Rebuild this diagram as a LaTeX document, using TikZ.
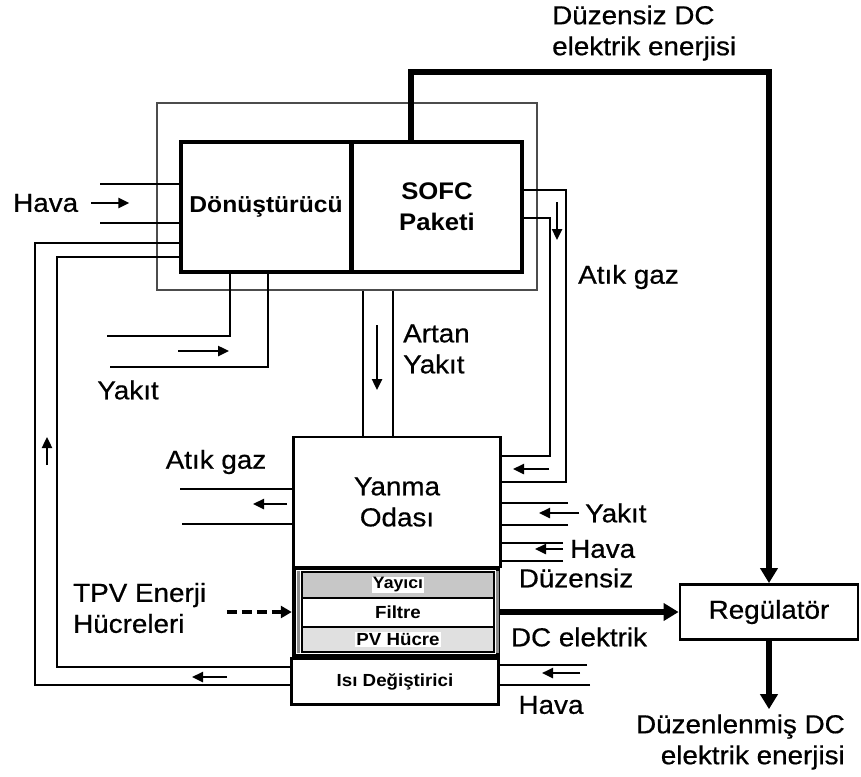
\documentclass[tikz,border=0pt]{standalone}
\usepackage{fontspec}
\setmainfont{Liberation Sans}[FakeStretch=1.07]
\usetikzlibrary{arrows.meta}

\begin{document}
\begin{tikzpicture}[
    x=1pt, y=-1pt,
    every node/.style={font=\fontsize{26}{31}\selectfont\addfontfeature{FakeBold=0.6}, inner sep=0pt},
    box/.style={draw, line width=2.8pt, align=center},
    lay/.style={draw, line width=1.2pt, minimum width=192pt},
    laytxt/.style={font=\fontsize{17.5}{20}\selectfont\bfseries, fill=white, inner sep=1pt},
    pipe/.style={line width=2.6pt},
    flow/.style={-{Triangle[length=11pt, width=10pt]}, line width=2.4pt},
    elec/.style={-{Triangle[length=15pt, width=17pt]}, line width=5.5pt},
    dflow/.style={-{Triangle[length=11pt, width=12pt]}, line width=4pt, dash pattern=on 10pt off 5pt}
]
\useasboundingbox (0,0) rectangle (861,776);
% Upper block: converter and SOFC stack in their enclosure
\node[draw=black!70, line width=1.6pt, minimum width=380pt, minimum height=187pt] (unit) at (347,196.5) {};
\node[box, line width=3.2pt, minimum width=170pt, minimum height=130pt, font=\fontsize{23}{28}\selectfont\bfseries] (conv) at (266,207) {Dönüştürücü};
\node[box, line width=3.2pt, minimum width=170pt, minimum height=130pt, font=\fontsize{24}{31}\selectfont\bfseries] (sofc) at (437,207) {SOFC\\Paketi};
% Lower block: combustor, TPV cells, heat exchanger
\node[box, minimum width=207pt, minimum height=130pt] (yanma) at (397,502) {Yanma\\Odası};
\node[draw, line width=4.5pt, minimum width=204pt, minimum height=88pt] (tpv) at (396,612) {};
\node[lay, fill=black!22, minimum height=26pt] (yay) at (398,585) {};
\node[lay, fill=white, minimum height=29pt] (fil) at (398,612.5) {};
\node[lay, fill=black!12, minimum height=25pt] (pvh) at (398,639.5) {};
\node[laytxt, font=\fontsize{16.5}{20}\selectfont\bfseries] (yaytxt) at (yay) {Yayıcı};
\node[laytxt] (filtxt) at (fil) {Filtre};
\node[laytxt] (pvhtxt) at (pvh) {PV Hücre};
\draw[black!45, line width=3pt] ([xshift=-3pt]yay.north west) -- ([xshift=-3pt]pvh.south west);
\draw[black!45, line width=3pt] ([xshift=3pt]yay.north east) -- ([xshift=3pt]pvh.south east);
\node[box, minimum width=207pt, minimum height=46pt, font=\fontsize{17.5}{20}\selectfont\bfseries] (isi) at (395,681.5) {Isı Değiştirici};
% Regulator
\node[box, minimum width=178pt, minimum height=55pt] (reg) at (769,612) {Regülatör};
% Labels
\node[anchor=west] (havaL) at (13,203) {Hava};
\node (yakitL) at (128,390) {Yakıt};
\node (agL) at (216,462) {Atık gaz};
\node[align=left, anchor=west] (artanL) at (403,349) {Artan\\Yakıt};
\node[anchor=west] (agR) at (578,277) {Atık gaz};
\node[anchor=west] (yakitR) at (585,513) {Yakıt};
\node[anchor=west] (havaR) at (570,549) {Hava};
\node (havaI) at (551,705) {Hava};
\node[align=left, anchor=west] (tpvL) at (73,608) {TPV Enerji\\Hücreleri};
\node (dzL) at (576,578) {Düzensiz};
\node (dcL) at (579,637) {DC elektrik};
\node[align=left, anchor=west] (dcTopL) at (552,33) {Düzensiz DC\\elektrik enerjisi};
\node[align=right, anchor=east] (outL) at (845,742) {Düzenlenmiş DC\\elektrik enerjisi};
% Air into the converter
\coordinate (hv1) at (100,184);
\coordinate (hv2) at (100,223);
\draw[pipe] (hv1) -- (hv1 -| conv.west);
\draw[pipe] (hv2) -- (hv2 -| conv.west);
\draw[flow] ([xshift=13pt]havaL.east) -- ++(38,0);
% Fuel into the converter
\coordinate (yk1) at (107,336);
\coordinate (yk2) at (110,367);
\draw[pipe] (yk1) -| ([xshift=-36pt]conv.south);
\draw[pipe] (yk2) -| ([xshift=2pt]conv.south);
\draw[flow] (178,351) -- (229,351);
% Return loops from the heat exchanger
\coordinate (lpA) at (35,685);
\coordinate (lpA2) at (35,243);
\coordinate (lpB) at (57,667);
\coordinate (lpB2) at (57,257);
\draw[pipe] (isi.west |- lpA) -- (lpA) -- (lpA2) -- (lpA2 -| conv.west);
\draw[pipe] (isi.west |- lpB) -- (lpB) -- (lpB2) -- (lpB2 -| conv.west);
\draw[flow] (47,465) -- (47,437);
\draw[flow] (227,677) -- (192,677);
% SOFC exhaust down to the combustor
\coordinate (exA) at (566,190);
\coordinate (exA2) at (566,482);
\coordinate (exB) at (550,218);
\coordinate (exB2) at (550,456);
\draw[pipe] (exA -| sofc.east) -- (exA) -- (exA2) -- (exA2 -| yanma.east);
\draw[pipe] (exB -| sofc.east) -- (exB) -- (exB2) -- (exB2 -| yanma.east);
\draw[flow] (557,202) -- (557,240);
\draw[flow] (549,469) -- (513,469);
% Leftover fuel
\draw[pipe] ([xshift=-34pt]yanma.north) -- ([xshift=-34pt]yanma.north |- unit.south);
\draw[pipe] ([xshift=-4pt]yanma.north) -- ([xshift=-4pt]yanma.north |- unit.south);
\draw[flow] (377,325) -- (377,390);
% Combustor exhaust
\coordinate (ag1) at (180,489);
\coordinate (ag2) at (182,524);
\draw[pipe] (ag1) -- (ag1 -| yanma.west);
\draw[pipe] (ag2) -- (ag2 -| yanma.west);
\draw[flow] (287,504) -- (253,504);
% Fuel and air into the combustor
\coordinate (yf1) at (568,503);
\coordinate (yf2) at (568,525);
\coordinate (ha1) at (563,543);
\coordinate (ha2) at (563,561);
\draw[pipe] (yf1) -- (yf1 -| yanma.east);
\draw[pipe] (yf2) -- (yf2 -| yanma.east);
\draw[pipe] (ha1) -- (ha1 -| yanma.east);
\draw[pipe] (ha2) -- (ha2 -| yanma.east);
\draw[flow] (579,513) -- (539,513);
\draw[flow] (563,549) -- (535,549);
% Air into the heat exchanger
\coordinate (hx1) at (587,665);
\coordinate (hx2) at (590,685);
\draw[pipe] (hx1) -- (hx1 -| isi.east);
\draw[pipe] (hx2) -- (hx2 -| isi.east);
\draw[flow] (580,673) -- (542,673);
% Electrical output
\coordinate (dcUp) at (411,72);
\draw[elec] (sofc.north -| dcUp) -- (dcUp) -| (reg.north);
\draw[elec] (tpv.east) -- (tpv.east -| reg.west);
\draw[elec] (reg.south) -- ([yshift=5pt]outL.north -| reg.south);
% TPV cells pointer
\draw[dflow] ([xshift=-65pt]tpv.west) -- (tpv.west);
\end{tikzpicture}
\end{document}
